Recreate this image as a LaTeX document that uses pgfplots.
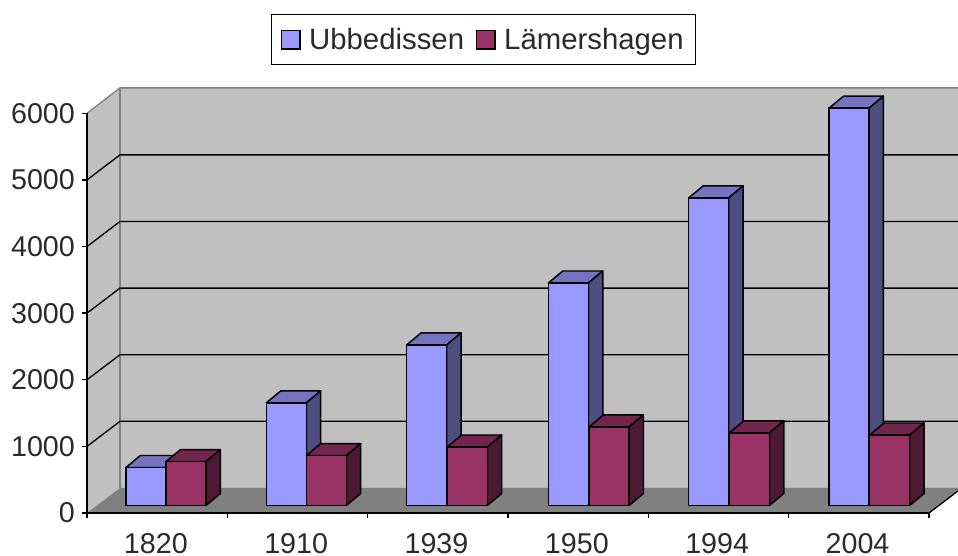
\documentclass[border=0pt]{standalone}
\usepackage{pgfplots}
\usepackage{pgfplotstable}
\usepackage{fontspec}
\setmainfont{Liberation Sans}
\pgfplotsset{compat=1.18}
\definecolor{ubb}{HTML}{9999FF}
\definecolor{ubbtop}{HTML}{7373BF}
\definecolor{ubbside}{HTML}{4D4D80}
\definecolor{lam}{HTML}{993366}
\definecolor{lamtop}{HTML}{73264D}
\definecolor{lamside}{HTML}{4D1A33}
\definecolor{wall}{HTML}{C0C0C0}
\definecolor{floorc}{HTML}{808080}
\definecolor{txt}{HTML}{2A2A2A}
\pgfplotstableread{
pos value
0.42 570
1.42 1540
2.42 2410
3.43 3340
4.43 4617
5.43 5964
}\ubbdata
\pgfplotstableread{
pos value
0.705 658
1.705 748
2.71 878
3.72 1180
4.72 1090
5.72 1058
}\lamdata
% side and top faces of a bar: x centre, value, top colour, side colour
\newcommand\faces[4]{%
  \pgfmathsetmacro\xa{#1-0.1425}%
  \pgfmathsetmacro\xb{#1+0.1425}%
  \pgfmathsetmacro\xc{#1+0.1425+0.103}%
  \pgfmathsetmacro\xd{#1-0.1425+0.103}%
  \pgfmathsetmacro\yb{#2+180}%
  \addplot[forget plot,fill=#3,draw=black,line width=1.1pt,line join=round] coordinates {(\xa,#2) (\xb,#2) (\xc,\yb) (\xd,\yb)} --cycle;
  \addplot[forget plot,fill=#4,draw=black,line width=1.1pt,line join=round] coordinates {(\xb,#2) (\xc,\yb) (\xc,0+180) (\xb,0)} --cycle;
}
\begin{document}
\begin{tikzpicture}
\path[use as bounding box] (0,0) rectangle (718.5pt,417pt);
\begin{axis}[
  scale only axis, at={(65.25pt,32.25pt)}, anchor=south west,
  x=105.25pt, y=0.04995pt,
  xmin=0, xmax=6, ymin=-113, ymax=5887,
  clip=false, axis on top=true,
  axis x line=bottom, axis y line=left,
  x axis line style={-,line width=1pt,black},
  y axis line style={-,line width=1pt,black},
  tick align=outside,
  major tick length=3.75pt, minor tick length=3.75pt,
  xtick={0.5,1.5,2.5,3.5,4.5,5.5},
  xticklabels={1820,1910,1939,1950,1994,2004},
  minor xtick={0,1,2,3,4,5,6},
  x tick style={draw=none},
  minor x tick style={draw=black,line width=1pt},
  y tick style={draw=black,line width=1pt},
  ytick={-113,887,1887,2887,3887,4887,5887},
  yticklabels={0,1000,2000,3000,4000,5000,6000},
  tick label style={font=\fontsize{21.5}{24}\selectfont,text=txt},
  xticklabel style={inner ysep=0pt,yshift=-11.2pt,xshift=-1pt},
  yticklabel style={xshift=-1.8pt},
  legend style={at={(0.4709,1.184)},anchor=center,draw=black,line width=1pt,fill=white,
    font=\fontsize{22}{24}\selectfont,text=txt,
    /tikz/every even column/.append style={column sep=6.75pt},
    /tikz/every odd column/.append style={column sep=4.25pt},
    inner xsep=6.75pt,inner ysep=8pt},
  legend columns=2,
  legend cell align=left,
]
% walls and floor
\addplot[forget plot,fill=wall,draw=none] coordinates {(0.235,263) (6.207,263) (6.207,6269) (0.235,6269)} --cycle;
\addplot[forget plot,fill=wall,draw=none] coordinates {(0,-113) (0,5887) (0.235,6269) (0.235,263)} --cycle;
\addplot[forget plot,fill=floorc,draw=none] coordinates {(0,-113) (6,-113) (6.207,219) (6.207,263) (0.235,263)} --cycle;
% wall edges
\addplot[forget plot,draw=floorc,line width=1pt] coordinates {(0,5887) (0.235,6269) (6.207,6269)};
\addplot[forget plot,draw=floorc,line width=1pt] coordinates {(0.235,263) (0.235,6269)};
\addplot[forget plot,draw=black,line width=1pt] coordinates {(6,-113) (6.207,219)};
% grid lines
\addplot[forget plot,draw=black,line width=1pt] coordinates {(0,887) (0.235,1263) (6.207,1263)};
\addplot[forget plot,draw=black,line width=1pt] coordinates {(0,1887) (0.235,2263) (6.207,2263)};
\addplot[forget plot,draw=black,line width=1pt] coordinates {(0,2887) (0.235,3263) (6.207,3263)};
\addplot[forget plot,draw=black,line width=1pt] coordinates {(0,3887) (0.235,4263) (6.207,4263)};
\addplot[forget plot,draw=black,line width=1pt] coordinates {(0,4887) (0.235,5263) (6.207,5263)};
% Ubbedissen
\faces{0.42}{570}{ubbtop}{ubbside}
\faces{1.42}{1540}{ubbtop}{ubbside}
\faces{2.42}{2410}{ubbtop}{ubbside}
\faces{3.43}{3340}{ubbtop}{ubbside}
\faces{4.43}{4617}{ubbtop}{ubbside}
\faces{5.43}{5964}{ubbtop}{ubbside}
\addplot[ybar,bar width=30pt,bar shift=0pt,fill=ubb,draw=black,line width=1.1pt,
  legend image code/.code={\draw[fill=ubb,draw=black,line width=1.1pt] (0pt,-7pt) rectangle (14pt,7pt);}]
  table[x=pos,y=value] {\ubbdata};
\addlegendentry{Ubbedissen}
% Lämershagen
\faces{0.705}{658}{lamtop}{lamside}
\faces{1.705}{748}{lamtop}{lamside}
\faces{2.71}{878}{lamtop}{lamside}
\faces{3.72}{1180}{lamtop}{lamside}
\faces{4.72}{1090}{lamtop}{lamside}
\faces{5.72}{1058}{lamtop}{lamside}
\addplot[ybar,bar width=30pt,bar shift=0pt,fill=lam,draw=black,line width=1.1pt,
  legend image code/.code={\draw[fill=lam,draw=black,line width=1.1pt] (0pt,-7pt) rectangle (14pt,7pt);}]
  table[x=pos,y=value] {\lamdata};
\addlegendentry{Lämershagen}
\end{axis}
\end{tikzpicture}
\end{document}
